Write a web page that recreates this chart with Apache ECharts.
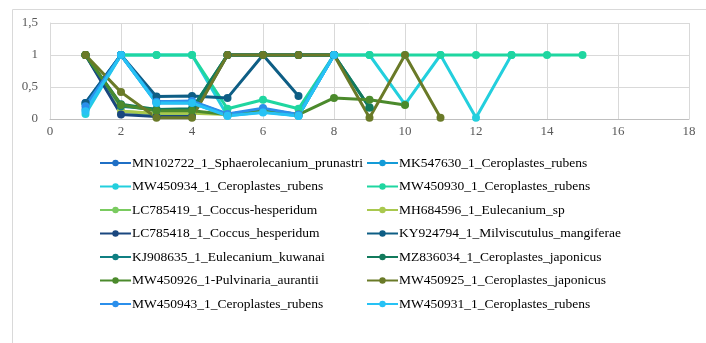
<!DOCTYPE html>
<html>
<head>
<meta charset="utf-8">
<script src="https://cdn.jsdelivr.net/npm/echarts@6/dist/echarts.min.js"></script>
<style>html,body{margin:0;padding:0;background:#fff}#c{width:706px;height:343px}</style>
</head>
<body>
<div id="c"></div>
<script>
const xTicks = [0, 2, 4, 6, 8, 10, 12, 14, 16, 18];
const yTicks = [0, 0.5, 1, 1.5];
const names = [
  "MN102722_1_Sphaerolecanium_prunastri",
  "MK547630_1_Ceroplastes_rubens",
  "MW450934_1_Ceroplastes_rubens",
  "MW450930_1_Ceroplastes_rubens",
  "LC785419_1_Coccus-hesperidum",
  "MH684596_1_Eulecanium_sp",
  "LC785418_1_Coccus_hesperidum",
  "KY924794_1_Milviscutulus_mangiferae",
  "KJ908635_1_Eulecanium_kuwanai",
  "MZ836034_1_Ceroplastes_japonicus",
  "MW450926_1-Pulvinaria_aurantii",
  "MW450925_1_Ceroplastes_japonicus",
  "MW450943_1_Ceroplastes_rubens",
  "MW450931_1_Ceroplastes_rubens"
];
const colors = ["#1F6FC5","#149BD7","#23CFDD","#1FD6A0","#7ACB60","#A9C84E","#1A477F",
  "#0E5E85","#107F82","#127A5C","#4B8A2C","#6A7A28","#2B8FEB","#27C2F5"];
const s1  = [0.25, 1, 0.27, 0.27, 0.07, 0.15, 0.06, 1];
const s2  = [0.15, 1, 0.25, 0.25, 0.06, 0.12, 0.05, 1];
const s3  = [0.08, 1, 1, 1, 0.05, 0.11, 0.05, 1, 1, 0.23, 1, 0.02, 1];
const s4  = [0.23, 1, 1, 1, 0.16, 0.3, 0.16, 1, 1, 1, 1, 1, 1, 1, 1];
const s5  = [1, 0.12, 0.08, 0.08, 1, 1, 1, 1];
const s6  = [1, 0.12, 0.09, 0.09, 0.07, 0.15, 0.07];
const s7  = [1, 0.07, 0.04, 0.04, 1, 1, 1, 1];
const s8  = [0.25, 1, 0.35, 0.36, 0.33, 1, 0.36];
const s9  = [1, 0.2, 0.15, 0.15, 1, 1, 1, 1, 0.18];
const s10 = [1, 0.23, 0.15, 0.16, 1, 1, 1, 1, 0.18];
const s11 = [1, 0.22, 0.13, 0.13, 0.07, 0.15, 0.07, 0.33, 0.3, 0.22];
const s12 = [1, 0.42, 0.02, 0.02, 1, 1, 1, 1, 0.02, 1, 0.02];
const s13 = [0.2, 1, 0.27, 0.28, 0.08, 0.17, 0.07, 1];
const s14 = [0.12, 1, 0.25, 0.25, 0.05, 0.1, 0.05, 1];
const allData = [s1,s2,s3,s4,s5,s6,s7,s8,s9,s10,s11,s12,s13,s14];

const font = '"Liberation Serif", "Times New Roman", serif';
const series = allData.map((d, i) => ({
  name: names[i],
  type: 'line',
  data: d.map((v, j) => [j + 1, v]),
  symbol: 'circle',
  symbolSize: 8,
  showSymbol: true,
  lineStyle: {width: 3, color: colors[i]},
  itemStyle: {color: colors[i]},
  emphasis: {disabled: true},
  animation: false
}));

const legendCommon = {
  orient: 'vertical',
  itemWidth: 31,
  itemHeight: 8,
  itemGap: 9.5,
  textStyle: {fontFamily: font, fontSize: 13.5, color: '#000', lineHeight: 14, padding: [0,0,0,-4]},
  padding: 0
};

const chart = echarts.init(document.getElementById('c'), null, {renderer: 'canvas'});
chart.setOption({
  animation: false,
  color: colors,
  graphic: [{
    type: 'rect', left: 10, top: 7, silent: true,
    shape: {width: 720, height: 400},
    style: {fill: 'none', stroke: '#d9d9d9', lineWidth: 1}
  }],
  grid: {left: 50, right: 17, top: 23, height: 96, containLabel: false},
  xAxis: {
    type: 'value', min: 0, max: 18, interval: 2,
    axisLine: {show: true, lineStyle: {color: '#bfbfbf'}},
    axisTick: {show: false},
    splitLine: {show: true, lineStyle: {color: '#d9d9d9'}},
    axisLabel: {fontFamily: font, fontSize: 13, color: '#595959', margin: 6}
  },
  yAxis: {
    type: 'value', min: 0, max: 1.5, interval: 0.5,
    axisLine: {show: true, lineStyle: {color: '#d9d9d9'}},
    axisTick: {show: false},
    splitLine: {show: true, lineStyle: {color: '#d9d9d9'}},
    axisLabel: {fontFamily: font, fontSize: 13, color: '#595959', margin: 12,
      formatter: v => String(v).replace('.', ',')}
  },
  legend: [
    Object.assign({left: 99, top: 156, data: names.filter((n, i) => i % 2 === 0)}, legendCommon),
    Object.assign({left: 366, top: 156, data: names.filter((n, i) => i % 2 === 1)}, legendCommon)
  ],
  series: series
});
</script>
</body>
</html>
